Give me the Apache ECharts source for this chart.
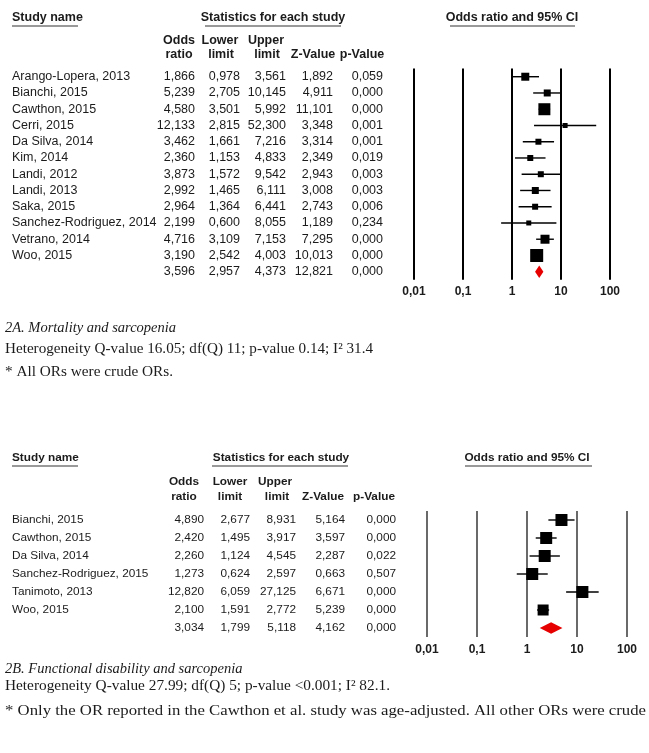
<!DOCTYPE html>
<html><head><meta charset="utf-8">
<script src="https://cdn.jsdelivr.net/npm/echarts@6/dist/echarts.min.js"></script>
<style>html,body{margin:0;padding:0;background:#fff}#c{width:649px;height:753px}</style>
</head><body><div id="c"></div>
<script>
// ---------- DATA ----------
const studiesA = ['Arango-Lopera, 2013','Bianchi, 2015','Cawthon, 2015','Cerri, 2015','Da Silva, 2014','Kim, 2014','Landi, 2012','Landi, 2013','Saka, 2015','Sanchez-Rodriguez, 2014','Vetrano, 2014','Woo, 2015',''];
const orA    = [1.866,5.239,4.580,12.133,3.462,2.360,3.873,2.992,2.964,2.199,4.716,3.190,3.596];
const lowerA = [0.978,2.705,3.501,2.815,1.661,1.153,1.572,1.465,1.364,0.600,3.109,2.542,2.957];
const upperA = [3.561,10.145,5.992,52.300,7.216,4.833,9.542,6.111,6.441,8.055,7.153,4.003,4.373];
const zA     = [1.892,4.911,11.101,3.348,3.314,2.349,2.943,3.008,2.743,1.189,7.295,10.013,12.821];
const pA     = [0.059,0.000,0.000,0.001,0.001,0.019,0.003,0.003,0.006,0.234,0.000,0.000,0.000];

const studiesB = ['Bianchi, 2015','Cawthon, 2015','Da Silva, 2014','Sanchez-Rodriguez, 2015','Tanimoto, 2013','Woo, 2015',''];
const orB    = [4.890,2.420,2.260,1.273,12.820,2.100,3.034];
const lowerB = [2.677,1.495,1.124,0.624,6.059,1.591,1.799];
const upperB = [8.931,3.917,4.545,2.597,27.125,2.772,5.118];
const zB     = [5.164,3.597,2.287,0.663,6.671,5.239,4.162];
const pB     = [0.000,0.000,0.022,0.507,0.000,0.000,0.000];

const tickLabels = ['0,01','0,1','1','10','100'];

// ---------- STYLE ----------
const markerSizeA = [8,7,12,5,6,6,6,7,6,5,9,13];
const markerSizeB = [12,12,12,12,12,11];
const SANS = '"Liberation Sans", Arial, sans-serif';
const SERIF = '"Liberation Serif", "Times New Roman", serif';
const INK = '#1b1b1b';

const fmt = v => v.toFixed(3).replace('.', ',');

function txt(text, x, y, align, font, fill) {
  return {type:'text', x:x, y:y, silent:true,
    style:{text:text, fill:fill||INK, font:font, align:align, verticalAlign:'middle',
           textAlign:align, textVerticalAlign:'middle'}};
}
function hline(x1, x2, y, color, w) {
  return {type:'line', silent:true, shape:{x1:x1,y1:y,x2:x2,y2:y}, style:{stroke:color, lineWidth:w}};
}
// reference caption font (Cambria-like) is wider than Liberation Serif: stretch to the measured span
const mctx = document.createElement('canvas').getContext('2d');
function fitText(text, x0, x1, y, font) {
  mctx.font = font;
  const w = mctx.measureText(text).width;
  const el = txt(text, x0, y, 'left', font);
  el.scaleX = (x1 - x0) / w;
  return el;
}

function tableData(names, or, lo, up, z, p) {
  return names.map((n,i)=>[0,i,or[i],lo[i],up[i],z[i],p[i]]);
}
function makeTable(names, cfg) {
  return function(params, api) {
    const i = params.dataIndex;
    const ch = [];
    const pn = api.coord([cfg.nameX, i]);
    ch.push(txt(names[i], pn[0], pn[1], 'left', cfg.font));
    cfg.cols.forEach((cx, k) => {
      const p = api.coord([cx, i]);
      ch.push(txt(fmt(api.value(2+k)), p[0], p[1], 'right', cfg.font));
    });
    return {type:'group', children:ch};
  };
}
function forestData(or, lo, up) {
  return or.map((v,i)=>[v,i,lo[i],up[i]]);
}
function makeForest(sizes, summaryIdx, dH, wW) {
  return function(params, api) {
    const i = params.dataIndex;
    const c = api.coord([api.value(0), i]);
    const l = api.coord([api.value(2), i]);
    const u = api.coord([api.value(3), i]);
    if (i === summaryIdx) {
      return {type:'polygon', shape:{points:[[l[0],c[1]],[c[0],c[1]-dH/2],[u[0],c[1]],[c[0],c[1]+dH/2]]},
              style:{fill:'#e60000'}};
    }
    const s = sizes[i];
    return {type:'group', children:[
      {type:'line', shape:{x1:l[0],y1:c[1],x2:u[0],y2:c[1]}, style:{stroke:'#000', lineWidth:wW}},
      {type:'rect', shape:{x:c[0]-s/2, y:c[1]-s/2, width:s, height:s}, style:{fill:'#000'}}
    ]};
  };
}

const gA = {top:68.6, height:211.25};
const gB = {top:511, height:126};

const logAxis = (gi, lineColor, lineW, margin) => ({
  type:'log', logBase:10, gridIndex:gi, min:0.01, max:100, splitNumber:4,
  axisLine:{show:false}, axisTick:{show:false},
  splitLine:{show:true, lineStyle:{color:lineColor, width:lineW}},
  axisLabel:{margin:margin, color:INK, fontWeight:'bold', fontSize:12, fontFamily:SANS,
    formatter: v => tickLabels[Math.round(Math.log10(v)) + 2]}
});

const capFont = '14.5px ' + SERIF;
const option = {
  animation:false,
  backgroundColor:'#fff',
  grid:[
    {left:0, width:400, top:gA.top, height:gA.height},
    {left:414, width:196, top:gA.top, height:gA.height},
    {left:0, width:400, top:gB.top, height:gB.height},
    {left:427, width:200, top:gB.top, height:gB.height}
  ],
  xAxis:[
    {type:'value', gridIndex:0, min:0, max:400, show:false},
    logAxis(1, '#000', 2, 6),
    {type:'value', gridIndex:2, min:0, max:400, show:false},
    logAxis(3, '#444', 1.6, 7)
  ],
  yAxis:[
    {type:'category', gridIndex:0, data:studiesA, inverse:true, show:false},
    {type:'category', gridIndex:1, data:studiesA, inverse:true, show:false},
    {type:'category', gridIndex:2, data:studiesB, inverse:true, show:false},
    {type:'category', gridIndex:3, data:studiesB, inverse:true, show:false}
  ],
  series:[
    {type:'custom', xAxisIndex:0, yAxisIndex:0, encode:{x:0,y:1},
     data:tableData(studiesA, orA, lowerA, upperA, zA, pA),
     renderItem:makeTable(studiesA, {nameX:12, cols:[195,240,286,333,383], font:'12.5px '+SANS})},
    {type:'custom', xAxisIndex:1, yAxisIndex:1, encode:{x:0,y:1},
     data:forestData(orA, lowerA, upperA),
     renderItem:makeForest(markerSizeA, orA.length-1, 12.5, 1.4)},
    {type:'custom', xAxisIndex:2, yAxisIndex:2, encode:{x:0,y:1},
     data:tableData(studiesB, orB, lowerB, upperB, zB, pB),
     renderItem:makeTable(studiesB, {nameX:12, cols:[204,250,296,345,396], font:'11.8px '+SANS})},
    {type:'custom', xAxisIndex:3, yAxisIndex:3, encode:{x:0,y:1},
     data:forestData(orB, lowerB, upperB),
     renderItem:makeForest(markerSizeB, orB.length-1, 11.5, 1.4)}
  ],
  graphic:{elements:[
    // panel A headers
    txt('Study name', 12, 18, 'left', 'bold 12.5px '+SANS),
    hline(12, 78, 26, '#777', 1.5),
    txt('Statistics for each study', 273, 18, 'center', 'bold 12.5px '+SANS),
    hline(205, 341, 26, '#777', 1.5),
    txt('Odds ratio and 95% CI', 512, 18, 'center', 'bold 12.5px '+SANS),
    hline(450, 575, 26, '#777', 1.5),
    txt('Odds', 179, 41, 'center', 'bold 12.5px '+SANS),
    txt('Lower', 220, 41, 'center', 'bold 12.5px '+SANS),
    txt('Upper', 266, 41, 'center', 'bold 12.5px '+SANS),
    txt('ratio', 179, 55, 'center', 'bold 12.5px '+SANS),
    txt('limit', 221, 55, 'center', 'bold 12.5px '+SANS),
    txt('limit', 267, 55, 'center', 'bold 12.5px '+SANS),
    txt('Z-Value', 313, 55, 'center', 'bold 12.5px '+SANS),
    txt('p-Value', 362, 55, 'center', 'bold 12.5px '+SANS),
    // panel A captions
    txt('2A. Mortality and sarcopenia', 5, 328, 'left', 'italic 14.5px '+SERIF),
    fitText('Heterogeneity Q-value 16.05; df(Q) 11; p-value 0.14; I² 31.4', 5, 373, 349, capFont),
    fitText('* All ORs were crude ORs.', 5, 173, 372, capFont),
    // panel B headers
    txt('Study name', 12, 458, 'left', 'bold 11.8px '+SANS),
    hline(12, 78, 466, '#777', 1.5),
    txt('Statistics for each study', 281, 458, 'center', 'bold 11.8px '+SANS),
    hline(212, 348, 466, '#777', 1.5),
    txt('Odds ratio and 95% CI', 527, 458, 'center', 'bold 11.8px '+SANS),
    hline(465, 592, 466, '#777', 1.5),
    txt('Odds', 184, 482, 'center', 'bold 11.8px '+SANS),
    txt('Lower', 230, 482, 'center', 'bold 11.8px '+SANS),
    txt('Upper', 275, 482, 'center', 'bold 11.8px '+SANS),
    txt('ratio', 184, 497, 'center', 'bold 11.8px '+SANS),
    txt('limit', 230, 497, 'center', 'bold 11.8px '+SANS),
    txt('limit', 277, 497, 'center', 'bold 11.8px '+SANS),
    txt('Z-Value', 323, 497, 'center', 'bold 11.8px '+SANS),
    txt('p-Value', 374, 497, 'center', 'bold 11.8px '+SANS),
    // panel B captions
    txt('2B. Functional disability and sarcopenia', 5, 669, 'left', 'italic 14.5px '+SERIF),
    fitText('Heterogeneity Q-value 27.99; df(Q) 5; p-value <0.001; I² 82.1.', 5, 390, 686, capFont),
    fitText('* Only the OR reported in the Cawthon et al. study was age-adjusted. All other ORs were crude', 5, 646, 711, capFont)
  ]}
};

const chart = echarts.init(document.getElementById('c'), null, {renderer:'canvas'});
chart.setOption(option);
</script>
</body></html>
